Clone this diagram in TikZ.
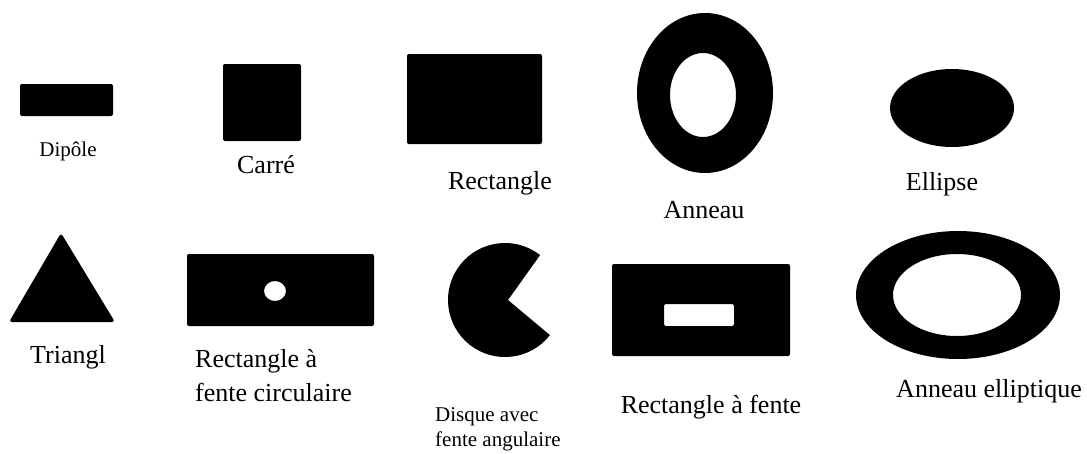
\documentclass[tikz,border=0pt]{standalone}
\usepackage{fontspec}
\setmainfont{Liberation Serif}
\usepackage{tikz}
\tikzset{
  piece/.style={fill=black,rounded corners=2pt},
  ring/.style={fill=black,even odd rule},
  biglbl/.style={font=\fontsize{26}{34}\selectfont,inner sep=0pt},
  smalllbl/.style={font=\fontsize{21}{25}\selectfont,inner sep=0pt}
}

\begin{document}
\begin{tikzpicture}[x=1pt,y=-1pt]
  \useasboundingbox (0,0) rectangle (1087,453);
  % top row
  \fill[piece] (20,84) rectangle (113,116);
  \node[smalllbl,anchor=base] (dipole) at (68,156) {Dipôle};
  \fill[piece] (223,64) rectangle (301,141);
  \node[biglbl,anchor=base] (carre) at (266,173) {Carré};
  \fill[piece] (407,54) rectangle (542,144);
  \node[biglbl,anchor=base] (rect) at (500,189) {Rectangle};
  \fill[ring] (705,93) ellipse [x radius=68,y radius=80]
              (703,95) ellipse [x radius=33,y radius=42];
  \node[biglbl,anchor=base] (anneau) at (704,218) {Anneau};
  \fill (952,108) ellipse [x radius=62,y radius=39];
  \node[biglbl,anchor=base] (ellipse) at (942,190) {Ellipse};
  % bottom row
  \fill[piece,rounded corners=3pt] (9,322) -- (115,322) -- (61,233) -- cycle;
  \node[biglbl,anchor=base] (triangl) at (68,363) {Triangl};
  \fill[ring,rounded corners=2pt] (187,254) rectangle (374,326)
              (275,291) ellipse [x radius=11,y radius=10];
  \node[biglbl,anchor=north west,align=left] (rectcirc) at (195,349)
    {Rectangle à\\fente circulaire};
  \fill (508,300) -- ([shift={(505,300)}]-52:57)
        arc[start angle=-52,end angle=-322,radius=57] -- cycle;
  \node[smalllbl,anchor=north west,align=left] (disque) at (435,407)
    {Disque avec\\fente angulaire};
  \fill[ring,rounded corners=2pt] (612,264) rectangle (790,356)
              (664,304) rectangle (734,326);
  \node[biglbl,anchor=base] (rectfente) at (711,413) {Rectangle à fente};
  \fill[ring] (958,295) ellipse [x radius=102,y radius=64]
              (957,295) ellipse [x radius=64,y radius=41];
  \node[biglbl,anchor=base] (anneauell) at (989,397) {Anneau elliptique};
\end{tikzpicture}
\end{document}
